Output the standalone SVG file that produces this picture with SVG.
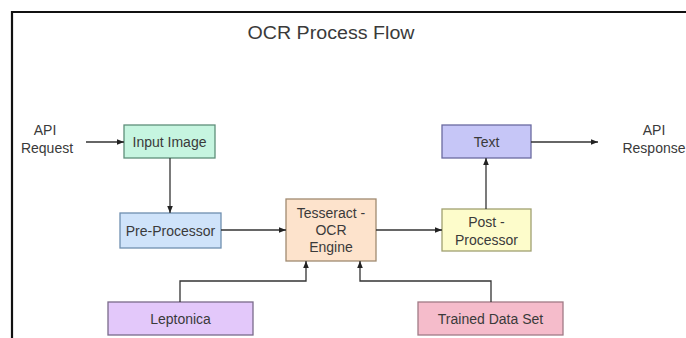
<svg xmlns="http://www.w3.org/2000/svg" width="686" height="338" viewBox="0 0 686 338">
<style>
text{font-family:"Liberation Sans",Arial,sans-serif;fill:#3a3a3a;text-anchor:middle;dominant-baseline:central}
.lbl{font-size:14px}
.box{stroke-width:1.3}
.conn{fill:none;stroke:#333;stroke-width:1.3}
</style>
<defs>
<marker id="ah" viewBox="0 0 10 10" refX="10" refY="5" markerWidth="7" markerHeight="7" orient="auto" markerUnits="userSpaceOnUse">
<path d="M0,1 L10,5 L0,9 Z" fill="#222"/>
</marker>
</defs>
<rect width="686" height="338" fill="#fff"/>
<path d="M12,338 V12 H686" fill="none" stroke="#111" stroke-width="2.2"/>
<text x="331" y="33" style="font-size:18px" textLength="167" lengthAdjust="spacingAndGlyphs">OCR Process Flow</text>

<g id="api-request">
<text class="lbl" x="45" y="130">API</text>
<text class="lbl" x="47" y="148">Request</text>
</g>
<g id="api-response">
<text class="lbl" x="654" y="130">API</text>
<text class="lbl" x="654" y="148">Response</text>
</g>

<g id="input-image">
<rect class="box" x="124" y="125" width="91" height="33" fill="#c6f5e0" stroke="#5f8f7a"/>
<text class="lbl" x="169.5" y="141.5">Input Image</text>
</g>
<g id="pre-processor">
<rect class="box" x="120" y="213" width="101" height="35" fill="#cfe3fa" stroke="#6f8fb0"/>
<text class="lbl" x="170.5" y="230.5">Pre-Processor</text>
</g>
<g id="tesseract">
<rect class="box" x="286" y="199" width="90" height="62" fill="#fde3cc" stroke="#a08a70"/>
<text class="lbl" x="331" y="213">Tesseract -</text>
<text class="lbl" x="331" y="230">OCR</text>
<text class="lbl" x="331" y="247">Engine</text>
</g>
<g id="post-processor">
<rect class="box" x="442" y="209" width="89" height="42" fill="#fdfccb" stroke="#a0a070"/>
<text class="lbl" x="486.5" y="222">Post -</text>
<text class="lbl" x="486.5" y="240">Processor</text>
</g>
<g id="text-node">
<rect class="box" x="442" y="125" width="89" height="33" fill="#c6c6f7" stroke="#6a6aa0"/>
<text class="lbl" x="486.5" y="141.5">Text</text>
</g>
<g id="leptonica">
<rect class="box" x="108" y="302" width="145" height="33" fill="#e3c8fa" stroke="#7a6a8a"/>
<text class="lbl" x="180.5" y="318.5">Leptonica</text>
</g>
<g id="trained-data-set">
<rect class="box" x="418" y="302" width="145" height="33" fill="#f5bccb" stroke="#a07a86"/>
<text class="lbl" x="490.5" y="318.5">Trained Data Set</text>
</g>

<g id="connectors">
<path class="conn" d="M86,142 H124" marker-end="url(#ah)"/>
<path class="conn" d="M170,158 V213" marker-end="url(#ah)"/>
<path class="conn" d="M221,230 H286" marker-end="url(#ah)"/>
<path class="conn" d="M376,230 H442" marker-end="url(#ah)"/>
<path class="conn" d="M486,209 V158" marker-end="url(#ah)"/>
<path class="conn" d="M531,142 H598" marker-end="url(#ah)"/>
<path class="conn" d="M180,302 V281 H306 V261" marker-end="url(#ah)"/>
<path class="conn" d="M491,302 V281 H360 V261" marker-end="url(#ah)"/>
</g>
</svg>
